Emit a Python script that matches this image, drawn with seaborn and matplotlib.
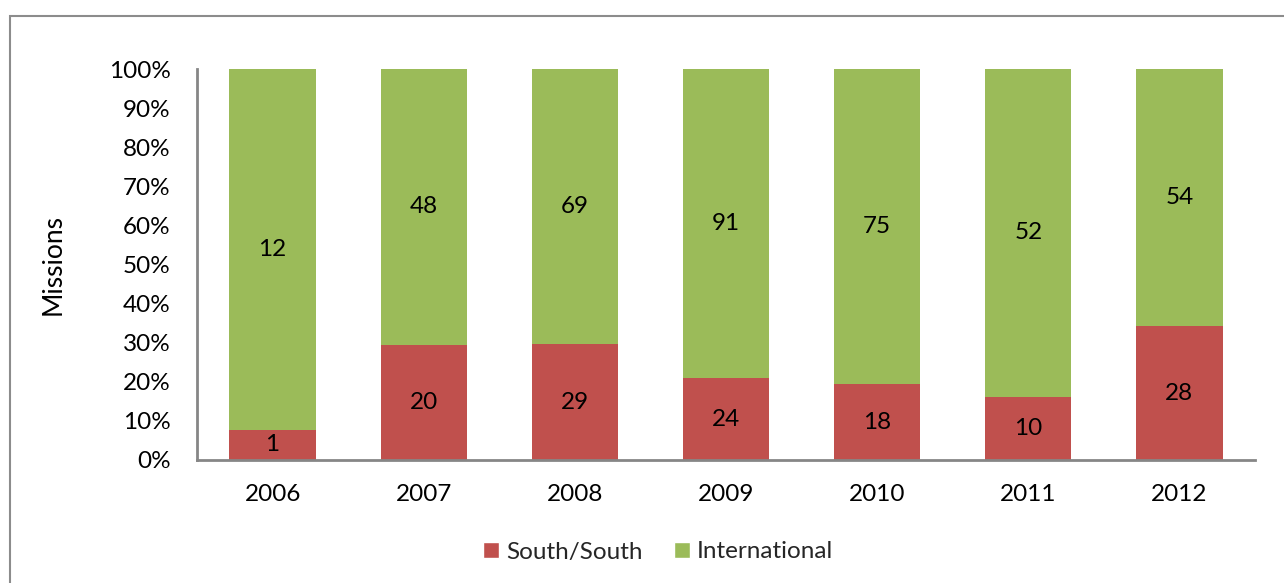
import matplotlib
matplotlib.use("Agg")
import matplotlib.pyplot as plt
import seaborn as sns
import pandas as pd
import numpy as np
from matplotlib.patches import Rectangle, Patch

years = ["2006", "2007", "2008", "2009", "2010", "2011", "2012"]
south_south = [1, 20, 29, 24, 18, 10, 28]
international = [12, 48, 69, 91, 75, 52, 54]
yticks = [0, 10, 20, 30, 40, 50, 60, 70, 80, 90, 100]

sns.set_theme(style="white")
plt.rcParams['font.family'] = ['Lato', 'DejaVu Sans']

RED = "#C0504D"
GREEN = "#9BBB59"
AXC = "#868686"

df = pd.DataFrame({"year": years, "ss": south_south, "intl": international})
df["total"] = df["ss"] + df["intl"]
df["ss_pct"] = df["ss"] / df["total"] * 100
df["all_pct"] = 100.0

fig = plt.figure(figsize=(12.84, 5.83), dpi=100)
ax = fig.add_axes([197/1284, 1-460/583, (1255-197)/1284, (460-69)/583])

sns.barplot(data=df, x="year", y="all_pct", color=GREEN, saturation=1, width=0.57, linewidth=0, ax=ax)
sns.barplot(data=df, x="year", y="ss_pct", color=RED, saturation=1, width=0.57, linewidth=0, ax=ax)

fs = 17.5
for i, r in df.iterrows():
    ax.text(i, r["ss_pct"] / 2, str(r["ss"]), ha="center", va="center", fontsize=fs, color="black")
    ax.text(i, r["ss_pct"] + (100 - r["ss_pct"]) / 2, str(r["intl"]), ha="center", va="center", fontsize=fs, color="black")

ax.set_xlim(-0.5, len(years) - 0.5)
ax.set_ylim(0, 100)
ax.set_yticks(yticks)
ax.set_yticklabels([f"{v}%" for v in yticks], fontsize=fs)
ax.tick_params(axis="x", labelsize=fs, pad=17, length=0, colors="black")
ax.tick_params(axis="y", length=0, pad=19, colors="black")
ax.set_xlabel("")
ax.set_ylabel("Missions", fontsize=19, labelpad=31, color="black")
for s in ["top", "right"]:
    ax.spines[s].set_visible(False)
for s in ["left", "bottom"]:
    ax.spines[s].set_color(AXC)
    ax.spines[s].set_linewidth(2)

handles = [Patch(facecolor=RED, label="South/South"), Patch(facecolor=GREEN, label="International")]
fig.legend(handles=handles, loc="center", bbox_to_anchor=(658/1284, 1-552/583), ncol=2, frameon=False,
           fontsize=fs, handlelength=0.65, handleheight=0.65, handletextpad=0.3, columnspacing=1.3)

fig.patches.append(Rectangle((10/1284, -0.1), 1.2, 0.1 + 1 - 16/583, transform=fig.transFigure,
                             fill=False, edgecolor="#8C8C8C", linewidth=1.5, figure=fig))

fig.savefig("out.png", dpi=100)
